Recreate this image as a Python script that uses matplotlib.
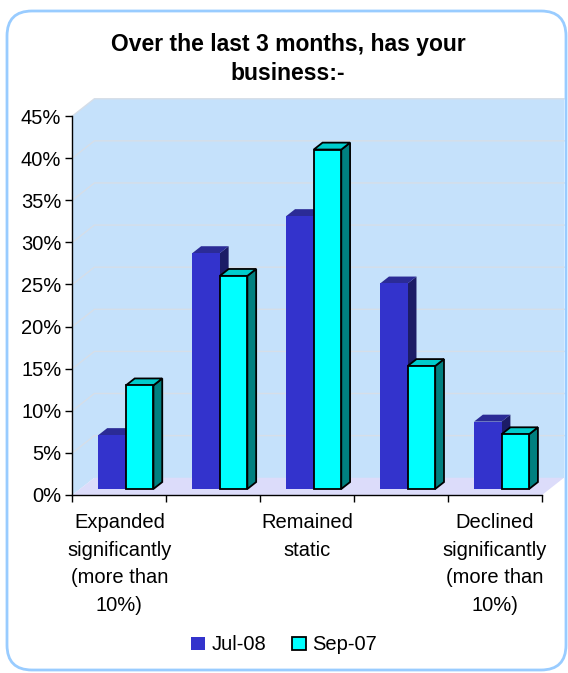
import matplotlib
matplotlib.use("Agg")
import matplotlib.pyplot as plt
from matplotlib.patches import Polygon, Patch, FancyBboxPatch

plt.rcParams['font.family'] = ['Liberation Sans', 'DejaVu Sans']

# survey results, percent of respondents
categories = ["Expanded\nsignificantly\n(more than\n10%)", "", "Remained\nstatic", "",
              "Declined\nsignificantly\n(more than\n10%)"]
series_names = ["Jul-08", "Sep-07"]
jul_08 = [6.4, 28.0, 32.4, 24.4, 8.0]
sep_07 = [12.3, 25.3, 40.3, 14.6, 6.5]
y_ticks = list(range(0, 50, 5))

W, H = 568, 673
fig = plt.figure(figsize=(W / 100, H / 100), dpi=100)

# plot area in pixels (left, right, bottom, top measured from the top edge)
px_l, px_r, px_b, px_t = 72.4, 542, 495, 116
ax = fig.add_axes([px_l / W, 1 - px_b / H, (px_r - px_l) / W, (px_b - px_t) / H])
n = len(categories)
ax.set_xlim(0, n)
ax.set_ylim(0, 45)
ax.patch.set_visible(False)

# oblique depth of the 3d box, in data units
DX, DY = 0.234, 2.05
wall_col = '#C5E1FB'
floor_col = '#DCDCFA'
grid_col = '#D6DEE8'

ax.add_patch(Polygon([(DX, DY), (n + DX, DY), (n + DX, 45 + DY), (DX, 45 + DY)],
                     closed=True, fc=wall_col, ec='none', zorder=0.5, clip_on=False))
ax.add_patch(Polygon([(0, 0), (DX, DY), (DX, 45 + DY), (0, 45)],
                     closed=True, fc=wall_col, ec='none', zorder=0.5, clip_on=False))
ax.add_patch(Polygon([(0, 0), (n, 0), (n + DX, DY), (DX, DY)],
                     closed=True, fc=floor_col, ec='none', zorder=0.6, clip_on=False))
for v in y_ticks[1:]:
    ax.plot([0, DX, n + DX], [v, v + DY, v + DY], color=grid_col, lw=1.0,
            zorder=0.7, clip_on=False)

# bars sit between these depth fractions
f0, f1 = 0.35, 0.75
bw = 0.293
offsets = [0.195, 0.195 + bw]
styles = [
    dict(front='#3333CC', top='#2B2B96', side='#1C1C66', edge='none', lw=0),
    dict(front='#00FFFF', top='#00CCCC', side='#008080', edge='black', lw=1.3),
]
z = 2
for i in range(n):
    for s, vals in enumerate([jul_08, sep_07]):
        st = styles[s]
        v = vals[i]
        x0 = i + offsets[s] + f0 * DX
        y0 = f0 * DY
        ddx, ddy = (f1 - f0) * DX, (f1 - f0) * DY
        x1 = x0 + bw
        y1 = y0 + v
        ax.add_patch(Polygon([(x1, y0), (x1 + ddx, y0 + ddy), (x1 + ddx, y1 + ddy), (x1, y1)],
                             closed=True, fc=st['side'], ec=st['edge'], lw=st['lw'],
                             joinstyle='miter', zorder=z, clip_on=False))
        ax.add_patch(Polygon([(x0, y1), (x0 + ddx, y1 + ddy), (x1 + ddx, y1 + ddy), (x1, y1)],
                             closed=True, fc=st['top'], ec=st['edge'], lw=st['lw'],
                             joinstyle='miter', zorder=z + 0.1, clip_on=False))
        ax.bar(x0, v, width=bw, bottom=y0, align='edge', color=st['front'],
               edgecolor=st['edge'], linewidth=st['lw'], zorder=z + 0.2, clip_on=False)
        z += 1

for side in ['top', 'right']:
    ax.spines[side].set_visible(False)
for side in ['left', 'bottom']:
    ax.spines[side].set_color('black')
    ax.spines[side].set_linewidth(1.0)
    ax.spines[side].set_zorder(50)

fs = 14.5
ax.set_yticks(y_ticks)
ax.set_yticklabels([f"{t}%" for t in y_ticks])
ax.set_xticks(range(n + 1))
ax.set_xticklabels([])
ax.set_xticks([i + 0.5 for i in range(n)], minor=True)
ax.set_xticklabels(categories, minor=True, fontsize=fs, linespacing=1.58)
ax.tick_params(axis='y', direction='out', length=5, width=1, labelsize=fs, pad=3)
ax.tick_params(axis='x', which='major', direction='out', length=5, width=1)
ax.tick_params(axis='x', which='minor', length=0, pad=13)

fig.text(288 / W, 1 - 59 / H, "Over the last 3 months, has your\nbusiness:-",
         ha='center', va='center', fontsize=16.5, fontweight='bold', linespacing=1.35)

handles = [Patch(facecolor='#3333CC', edgecolor='none', label=series_names[0]),
           Patch(facecolor='#00FFFF', edgecolor='black', linewidth=1.3, label=series_names[1])]
fig.legend(handles=handles, loc='center', bbox_to_anchor=(284 / W, 1 - 645 / H), ncol=2,
           frameon=False, fontsize=fs, handlelength=0.7, handleheight=0.65,
           handletextpad=0.3, columnspacing=1.3)

# rounded chart border
frame = FancyBboxPatch((7 / 100, 3 / 100), (566 - 7) / 100, (662 - 3) / 100,
                       boxstyle='round,pad=0,rounding_size=0.25',
                       transform=fig.dpi_scale_trans, fc='none', ec='#99CCFF', lw=2.0)
fig.patches.append(frame)

fig.savefig("out.png", dpi=100)
